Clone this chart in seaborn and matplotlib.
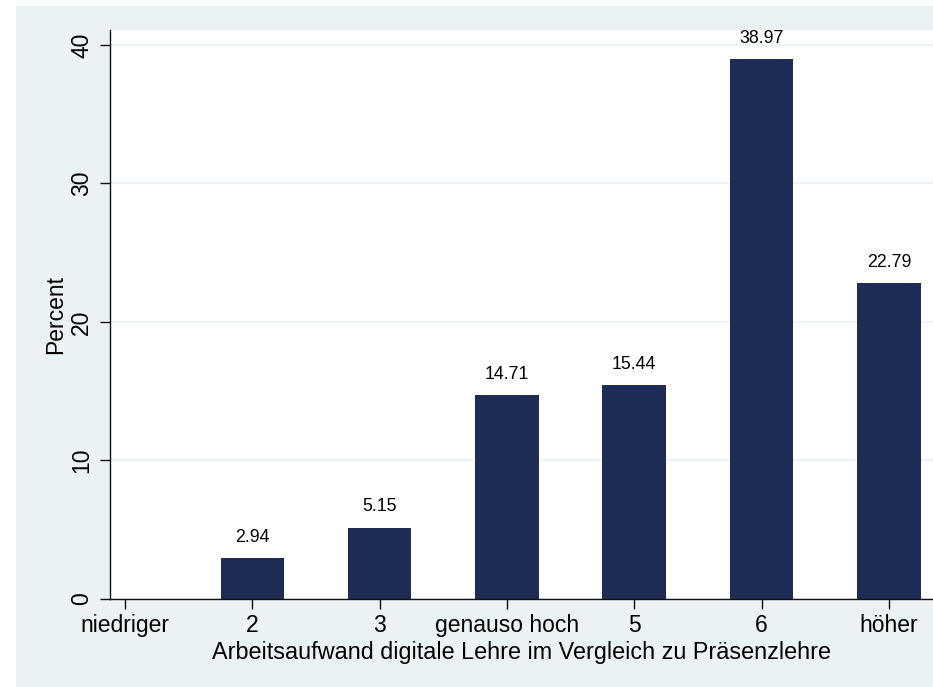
import matplotlib
matplotlib.use("Agg")
import matplotlib.pyplot as plt
import seaborn as sns
import pandas as pd
from matplotlib.patches import Rectangle

# ---------------------------------------------------------
# Data
# ---------------------------------------------------------

categories = ["niedriger", "2", "3", "genauso hoch", "5", "6", "höher"]
percent = [0.0, 2.94, 5.15, 14.71, 15.44, 38.97, 22.79]
value_labels = ["", "2.94", "5.15", "14.71", "15.44", "38.97", "22.79"]
y_ticks = [0, 10, 20, 30, 40]

df = pd.DataFrame({"category": categories, "percent": percent})

# ---------------------------------------------------------
# Style
# ---------------------------------------------------------

sns.set_theme(style="white")
plt.rcParams["font.family"] = ["Liberation Sans", "DejaVu Sans"]
plt.rcParams["text.color"] = "black"
plt.rcParams["axes.labelcolor"] = "black"
plt.rcParams["xtick.color"] = "black"
plt.rcParams["ytick.color"] = "black"

bar_color = "#1f2c55"
region_color = "#eaf2f3"

fig = plt.figure(figsize=(9.33, 6.87), dpi=100)
fig.patch.set_facecolor("white")

# Stata-like graph region, behind the axes
fig.patches.append(
    Rectangle((16 / 933, 0), 1, (687 - 6) / 687,
              transform=fig.transFigure, facecolor=region_color,
              edgecolor="none", zorder=-10)
)

ax = fig.add_axes([110 / 933, 88 / 687, 1 - 110 / 933, (599 - 30) / 687])
ax.set_facecolor("white")

sns.barplot(
    data=df,
    x="category",
    y="percent",
    order=categories,
    color=bar_color,
    saturation=1,
    width=0.5,
    linewidth=0,
    ax=ax,
)

ax.bar_label(ax.containers[0], labels=value_labels, padding=9,
             fontsize=12.8, color="black")

# ---------------------------------------------------------
# Axes
# ---------------------------------------------------------

ax.set_xlim(-0.118, 6.346)
ax.set_ylim(0, 41.08)
ax.set_yticks(y_ticks)
ax.set_yticklabels([str(t) for t in y_ticks], rotation=90, va="center")

ax.yaxis.grid(True, color=region_color, linewidth=1.2)
ax.set_axisbelow(True)

for side in ["top", "right"]:
    ax.spines[side].set_visible(False)
for side in ["left", "bottom"]:
    ax.spines[side].set_color("#111111")
    ax.spines[side].set_linewidth(1.0)

ax.tick_params(axis="both", which="both", direction="out", length=7,
               width=1, color="#111111", labelsize=16.5, bottom=True, left=True)
ax.tick_params(axis="x", pad=4)
ax.tick_params(axis="y", pad=5)

ax.set_xlabel("Arbeitsaufwand digitale Lehre im Vergleich zu Präsenzlehre",
              fontsize=16.8, labelpad=3)
ax.set_ylabel("Percent", fontsize=16.5, labelpad=2)

plt.savefig("out.png", dpi=100, facecolor=fig.get_facecolor())
plt.close()
